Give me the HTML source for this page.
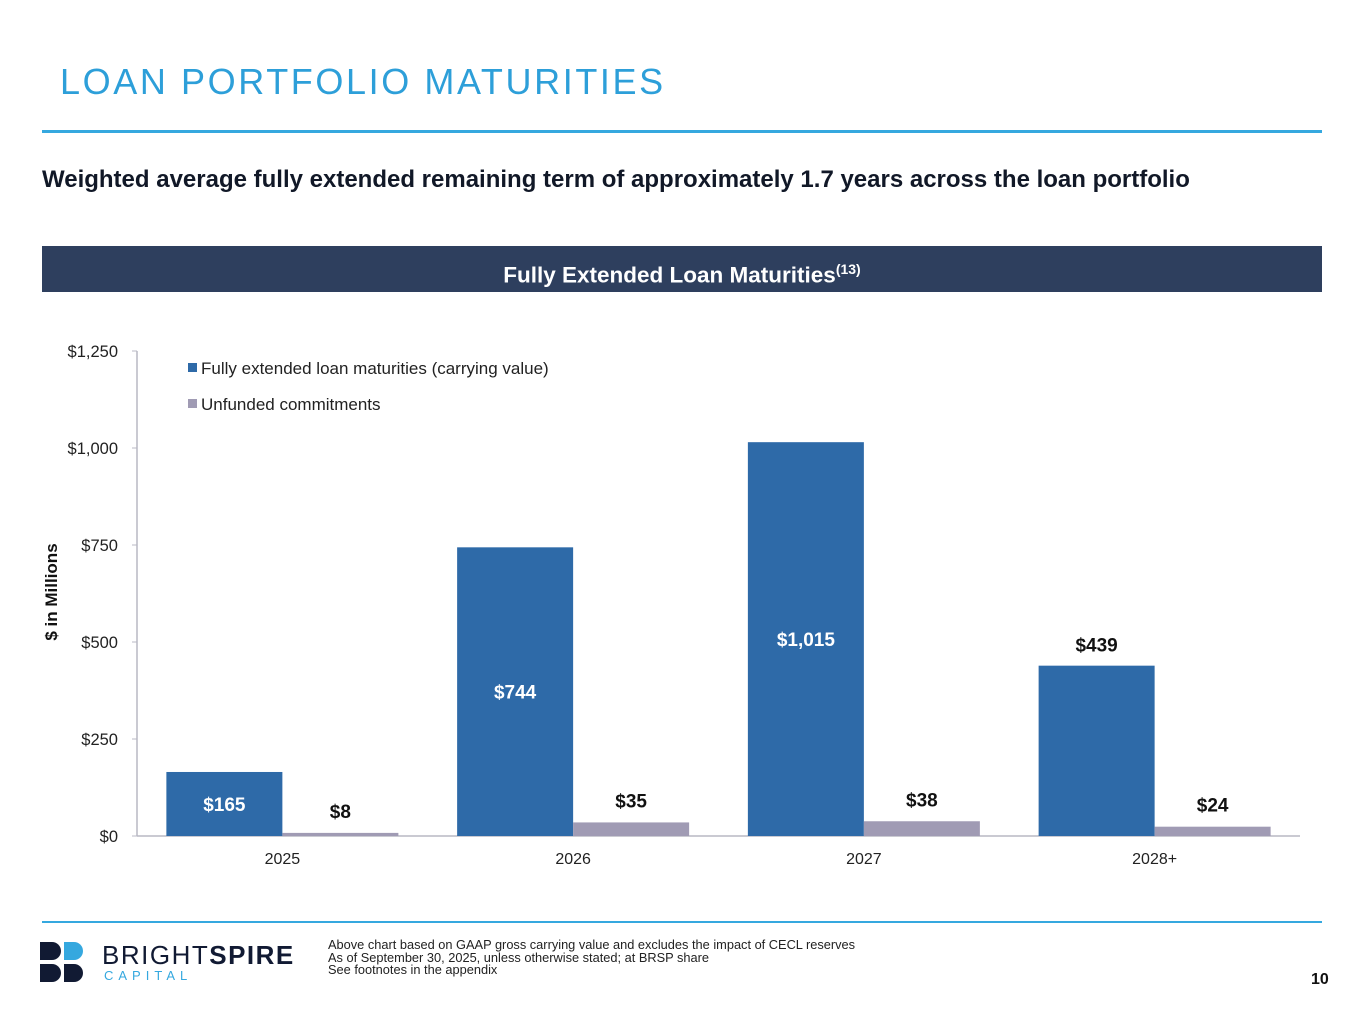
<!DOCTYPE html>
<html><head><meta charset="utf-8"><style>
body{margin:0;width:1365px;height:1024px;background:#fff;font-family:"Liberation Sans",sans-serif;position:relative;overflow:hidden}
.abs{position:absolute}
</style></head><body>
<div class="abs" style="left:60px;top:61px;font-size:36px;letter-spacing:2.6px;color:#2d9fd9">LOAN PORTFOLIO MATURITIES</div>
<div class="abs" style="left:42px;top:130px;width:1280px;height:3px;background:#35a8df"></div>
<div class="abs" style="left:42px;top:166px;font-size:24px;font-weight:bold;color:#111827">Weighted average fully extended remaining term of approximately 1.7 years across the loan portfolio</div>
<div class="abs" style="left:42px;top:246px;width:1280px;height:46px;background:#2e3f5e;color:#fff;font-size:22.5px;font-weight:bold;text-align:center;line-height:46px">Fully Extended Loan Maturities<sup style="font-size:14px">(13)</sup></div>
<svg class="abs" style="left:0;top:0" width="1365" height="1024" id="chart">
<text transform="translate(57,592) rotate(-90)" text-anchor="middle" font-size="17" font-weight="bold" fill="#111">$ in Millions</text>
<rect x="188" y="363" width="9" height="9" fill="#2e6aa8"/>
<text x="201" y="374" font-size="17" fill="#222">Fully extended loan maturities (carrying value)</text>
<rect x="188" y="399" width="9" height="9" fill="#a09bb4"/>
<text x="201" y="410" font-size="17" fill="#222">Unfunded commitments</text>
</svg>
<div class="abs" style="left:42px;top:921px;width:1280px;height:2px;background:#35a8df"></div>
<svg class="abs" style="left:40px;top:942px" width="48" height="40">
<path d="M0 0h12a9 9 0 0 1 0 18h-12z" fill="#111a33"/><path d="M24 0h10a9 9 0 0 1 0 18h-10z" fill="#35a8df"/>
<path d="M0 22h12a9 9 0 0 1 0 18h-12z" fill="#111a33"/><path d="M24 22h10a9 9 0 0 1 0 18h-10z" fill="#111a33"/></svg>
<div class="abs" style="left:102px;top:940px;font-size:26px;letter-spacing:1.5px;color:#111a33">BRIGHT<b>SPIRE</b></div>
<div class="abs" style="left:104px;top:968px;font-size:13px;letter-spacing:5px;color:#35a8df">CAPITAL</div>
<div class="abs" style="left:328px;top:939px;font-size:12.8px;line-height:12.5px;color:#222">Above chart based on GAAP gross carrying value and excludes the impact of CECL reserves<br>As of September 30, 2025, unless otherwise stated; at BRSP share<br>See footnotes in the appendix</div>
<div class="abs" style="left:1311px;top:971px;font-size:16px;font-weight:bold;color:#111">10</div>
<script>
const categories=["2025","2026","2027","2028+"];
const fundedValues=[165,744,1015,439];
const unfundedValues=[8,35,38,24];
const fundedLabels=["$165","$744","$1,015","$439"];
const unfundedLabels=["$8","$35","$38","$24"];
const yTicks=[0,250,500,750,1000,1250];
const yTickLabels=["$0","$250","$500","$750","$1,000","$1,250"];
const svg=document.getElementById('chart');
const NS="http://www.w3.org/2000/svg";
const x0=137,x1=1300,yBase=836,yMax=1250,yPx=485;
const y=v=>yBase-v/yMax*yPx;
const band=(x1-x0)/categories.length;
const cx=i=>x0+band*(i+0.5);
function mk(t,a,txt){const e=document.createElementNS(NS,t);for(const k in a)e.setAttribute(k,a[k]);if(txt!==undefined)e.textContent=txt;svg.appendChild(e);return e;}
let e=mk('line',{x1:x0,y1:y(yMax),x2:x0,y2:yBase,stroke:'#b8b8c4','stroke-width':1.5});


e=mk('line',{x1:x0,y1:yBase,x2:x1,y2:yBase,stroke:'#b8b8c4','stroke-width':1.5});


yTicks.forEach((t,i)=>{
 e=mk('line',{x1:x0-5,y1:y(t),x2:x0,y2:y(t),stroke:'#b8b8c4'});
 
 
 e=mk('text',{x:118,y:y(t)+6,'text-anchor':'end','font-size':16.5,fill:'#222'},yTickLabels[i]);
 
 
});
const bw=116;
categories.forEach((c,i)=>{
 const m=cx(i);
 e=mk('rect',{x:m-bw,y:y(fundedValues[i]),width:bw,height:yBase-y(fundedValues[i]),fill:'#2e6aa8'});
 
 
 e=mk('rect',{x:m,y:y(unfundedValues[i]),width:bw,height:yBase-y(unfundedValues[i]),fill:'#a09bb4'});
 
 
 const inside=fundedValues[i]/yMax>0.45||fundedValues[i]<250;
 const ly=inside?(y(fundedValues[i])+yBase)/2+7:y(fundedValues[i])-14;
 e=mk('text',{x:m-bw/2,y:ly,'text-anchor':'middle','font-size':19,'font-weight':'bold',fill:inside?'#fff':'#111'},fundedLabels[i]);
 
 
 e=mk('text',{x:m+bw/2,y:y(unfundedValues[i])-15,'text-anchor':'middle','font-size':19,'font-weight':'bold',fill:'#111'},unfundedLabels[i]);
 
 
 e=mk('text',{x:m,y:yBase+28,'text-anchor':'middle','font-size':16,fill:'#222'},c);
 
 
});
</script>
</body></html>
